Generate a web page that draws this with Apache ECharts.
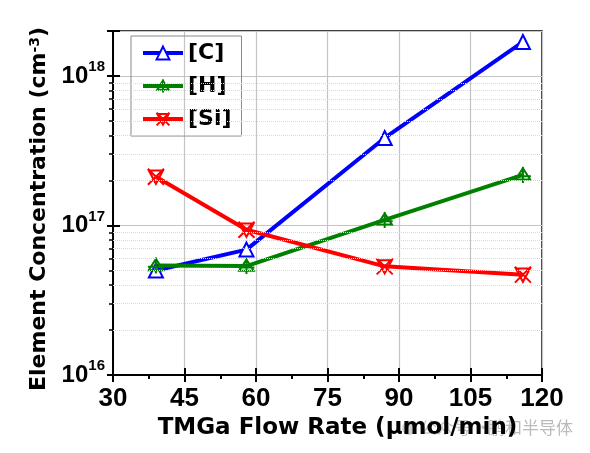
<!DOCTYPE html>
<html>
<head>
<meta charset="utf-8">
<script src="https://cdn.jsdelivr.net/npm/echarts@6/dist/echarts.min.js"></script>
<style>
  html, body {margin: 0; padding: 0; background: #fff;}
  #chart {width: 590px; height: 453px;}
</style>
</head>
<body>
<div id="chart"></div>
<script>
const flowRate = [39, 58, 87, 116]
const carbon = [5.0e16, 6.9e16, 3.85e17, 1.69e18]
const hydrogen = [5.4e16, 5.35e16, 1.09e17, 2.18e17]
const silicon = [2.12e17, 9.36e16, 5.33e16, 4.69e16]
const xTicks = [30, 45, 60, 75, 90, 105, 120]
const decades = [16, 17, 18]

const FONT = '"Liberation Sans", Arial, sans-serif'
const WIDE = '"DejaVu Sans", sans-serif'
const yMin = 1e16
const yMax = 2e18

const pairs = ys => flowRate.map((x, i) => [x, ys[i]])

// dotted minor grid at 2..9 of every decade
const minorValues = []
decades.forEach(d => {
  for (let k = 2; k <= 9; k++) {
    const v = k * Math.pow(10, d)
    if (v < yMax) minorValues.push(v)
  }
})

const powerLabel = v => {
  const e = Math.round(Math.log10(v))
  if (Math.abs(Math.log10(v) - e) > 1e-6) return ''
  return '{b|10}{s|' + e + '}'
}

const hSymbol = 'path://M0,-10 L9,7 L-9,7 Z M0,-12 L0,12 M-10,2 L10,2'
const siSymbol = 'path://M-9,-9 L9,9 M9,-9 L-9,9 M-8,-7 L8,-7 L0,8 Z'

const chart = echarts.init(document.getElementById('chart'))
chart.setOption({
  animation: false,
  grid: {left: 113, right: 48, top: 31, bottom: 78, show: true, borderColor: '#000', borderWidth: 1.5},
  legend: {
    left: 131, top: 36, orient: 'vertical',
    borderColor: '#8a8a8a', borderWidth: 1, padding: [6, 10, 6, 10],
    itemGap: 11, itemWidth: 40, itemHeight: 16,
    lineStyle: {width: 4},
    textStyle: {fontFamily: WIDE, fontWeight: 'bold', fontSize: 22, color: '#000'},
    data: ['[C]', '[H]', '[Si]']
  },
  xAxis: [{
    type: 'value', min: xTicks[0], max: xTicks[xTicks.length - 1], interval: 15,
    name: 'TMGa Flow Rate (µmol/min)', nameLocation: 'middle', nameGap: 41,
    nameTextStyle: {fontFamily: WIDE, fontWeight: 'bold', fontSize: 23, color: '#000', padding: [0, 0, 0, 20]},
    axisLine: {lineStyle: {color: '#000', width: 2}},
    axisTick: {length: 7, lineStyle: {color: '#000', width: 2}},
    minorTick: {show: true, splitNumber: 2, length: 4, lineStyle: {color: '#000', width: 2}},
    axisLabel: {fontFamily: FONT, fontWeight: 'bold', fontSize: 26, color: '#000', margin: 11},
    splitLine: {show: true, lineStyle: {color: '#c4c4c4', width: 1.2}}
  }, {
    type: 'value', position: 'bottom', min: xTicks[0], max: xTicks[xTicks.length - 1], interval: 15,
    axisLine: {show: false}, axisLabel: {show: false}, splitLine: {show: false},
    axisTick: {inside: true, length: 7, lineStyle: {color: '#000', width: 2}}
  }],
  yAxis: [{
    type: 'log', logBase: 10, min: yMin, max: yMax,
    name: '{a|Element Concentration (cm}{s|-3}{a|)}', nameLocation: 'middle', nameGap: 55,
    nameTextStyle: {
      padding: [0, 12, 0, 0],
      rich: {
        a: {fontFamily: WIDE, fontWeight: 'bold', fontSize: 22, color: '#000'},
        s: {fontFamily: WIDE, fontWeight: 'bold', fontSize: 14, color: '#000', verticalAlign: 'top'}
      }
    },
    axisLine: {lineStyle: {color: '#000', width: 2}},
    axisTick: {length: 6, lineStyle: {color: '#000', width: 2}},
    minorTick: {show: true, splitNumber: 9, length: 4, lineStyle: {color: '#000', width: 1.5}},
    axisLabel: {
      margin: 8,
      formatter: powerLabel,
      rich: {
        b: {fontFamily: FONT, fontWeight: 'bold', fontSize: 24, color: '#000'},
        s: {fontFamily: FONT, fontWeight: 'bold', fontSize: 15, color: '#000', padding: [0, 0, 18, 0]}
      }
    },
    splitLine: {show: true, lineStyle: {color: '#c4c4c4', width: 1.2}}
  }, {
    type: 'log', logBase: 10, min: yMin, max: yMax, position: 'left',
    axisLine: {show: false}, axisLabel: {show: false}, splitLine: {show: false},
    axisTick: {inside: true, length: 7, lineStyle: {color: '#000', width: 2}}
  }],
  graphic: [{
    type: 'circle', left: 402, top: 421, silent: true,
    shape: {r: 7}, style: {fill: 'rgba(150,150,150,0.45)'}
  }, {
    type: 'text', left: 420, top: 419, silent: true,
    style: {text: '公众号 ·', font: '17px "Noto Sans CJK SC"', fill: 'rgba(140,140,140,0.5)'}
  }, {
    type: 'text', left: 488, top: 419, silent: true,
    style: {text: '鹏和半导体', font: '17px "Noto Sans CJK SC"', fill: 'rgba(140,140,140,0.6)'}
  }],
  series: [{
    name: '[C]', type: 'line', data: pairs(carbon),
    symbol: 'emptyTriangle', symbolSize: 14,
    lineStyle: {color: '#0000ff', width: 4},
    itemStyle: {color: '#0000ff', borderWidth: 2},
    markLine: {
      silent: true, symbol: 'none', label: {show: false},
      lineStyle: {color: '#d9d9d9', type: 'dotted', width: 1},
      data: minorValues.map(v => ({yAxis: v}))
    },
    z: 3
  }, {
    name: '[H]', type: 'line', data: pairs(hydrogen),
    symbol: hSymbol, symbolSize: 16,
    lineStyle: {color: '#008000', width: 4},
    itemStyle: {color: 'rgba(0,0,0,0)', borderColor: '#008000', borderWidth: 2},
    z: 3
  }, {
    name: '[Si]', type: 'line', data: pairs(silicon),
    symbol: siSymbol, symbolSize: 16,
    lineStyle: {color: '#ff0000', width: 4},
    itemStyle: {color: 'rgba(0,0,0,0)', borderColor: '#ff0000', borderWidth: 2},
    z: 3
  }]
})
</script>
</body>
</html>
